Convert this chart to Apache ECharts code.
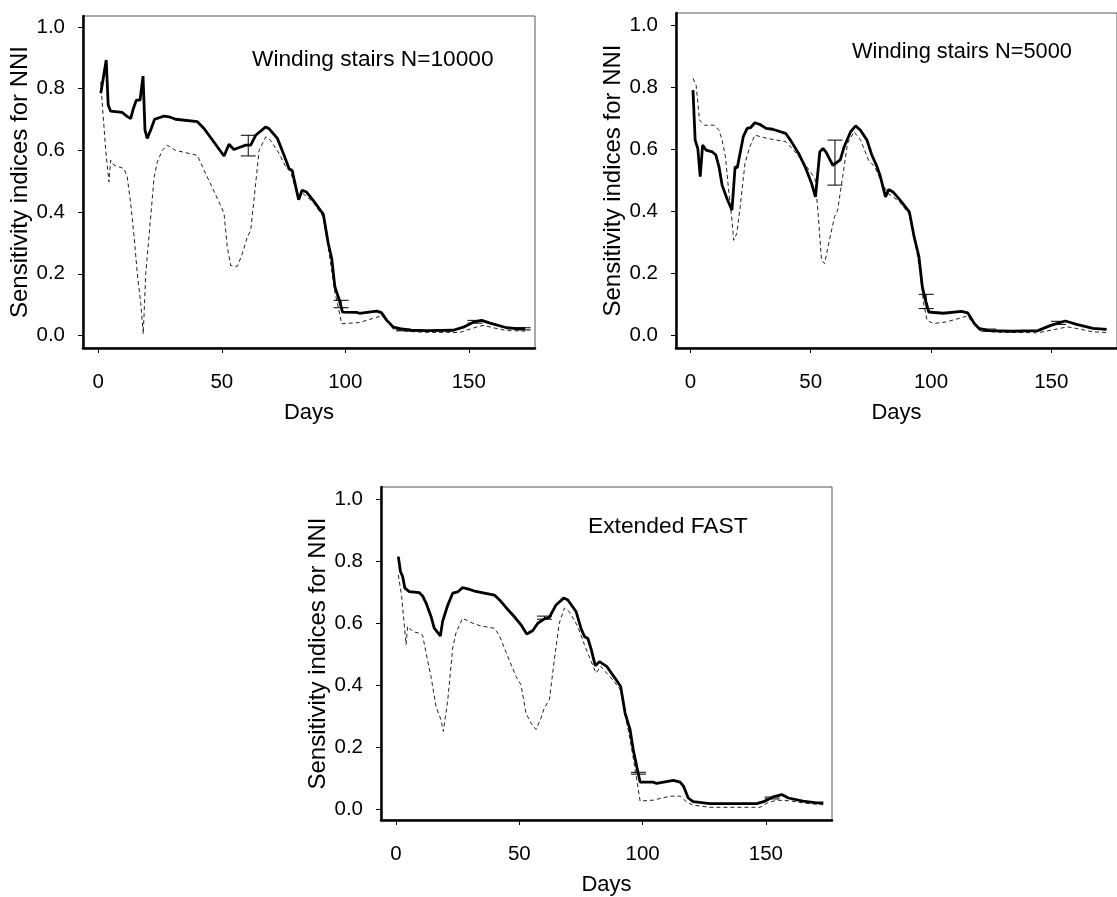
<!DOCTYPE html>
<html>
<head>
<meta charset="utf-8">
<script src="https://cdn.jsdelivr.net/npm/echarts@6/dist/echarts.min.js"></script>
<style>
html,body{margin:0;padding:0;background:#fff;}
#chart{width:1117px;height:897px;}
</style>
</head>
<body>
<div id="chart"></div>
<script>
// ---------- DATA ----------
const xTickValues = [0, 50, 100, 150];
const yTickValues = [0, 0.2, 0.4, 0.6, 0.8, 1.0];
const panelTitles = ["Winding stairs N=10000", "Winding stairs N=5000", "Extended FAST"];
const xAxisTitle = "Days";
const yAxisTitle = "Sensitivity indices for NNI";

// Panel 1: Winding stairs N=10000
const p1SolidDays = [1,3.2,4,5,9.7,11.5,13.1,14.2,15.4,16.9,18.1,18.9,19.8,21.2,22.8,26.6,28.6,31.3,40.1,42.8,50.9,52.9,54.9,57.6,59.7,61.7,63.7,67.8,69.2,72.5,75.2,77.2,78.5,81.1,82.5,84.3,87,91.1,93.1,94.5,95.8,97.6,98.9,104.6,105.7,112.7,114.6,116.8,119.5,122.2,126.2,133,143.7,147.8,151.8,155.2,158.6,165.3,169.4,172.8];
const p1SolidVals = [0.785,0.893,0.747,0.727,0.723,0.711,0.703,0.736,0.763,0.763,0.841,0.666,0.639,0.666,0.701,0.711,0.709,0.701,0.693,0.671,0.582,0.620,0.603,0.611,0.617,0.617,0.649,0.676,0.670,0.639,0.584,0.541,0.535,0.440,0.471,0.465,0.438,0.393,0.298,0.249,0.157,0.114,0.076,0.075,0.072,0.079,0.074,0.049,0.027,0.022,0.017,0.016,0.017,0.027,0.043,0.049,0.040,0.025,0.022,0.022];
const p1DashDays = [1,1.3,3,4.3,5,6.4,10.4,11.7,13.1,14.5,15.8,17.2,18.2,19.2,20.5,22.6,23.9,25.9,27.9,31.3,40.1,42.8,49.5,50.9,52.2,53.6,56.3,58.3,60.3,61.7,63,65.1,67.8,69.7,73.2,75.9,77.9,81,82.6,87,91,93,95.8,98,98.5,105.7,114,116,119.5,125.5,133,146.4,151.8,155.8,159.9,165.3,172.8];
const p1DashVals = [0.822,0.785,0.600,0.498,0.568,0.552,0.541,0.514,0.428,0.319,0.200,0.103,0.005,0.200,0.319,0.514,0.563,0.600,0.617,0.600,0.584,0.536,0.422,0.395,0.287,0.227,0.224,0.265,0.319,0.341,0.438,0.600,0.644,0.633,0.590,0.546,0.530,0.440,0.462,0.432,0.385,0.290,0.140,0.060,0.038,0.042,0.062,0.060,0.020,0.013,0.010,0.010,0.024,0.033,0.025,0.016,0.014];
const p1ErrDays = [60.7, 98.3, 123.5, 152.5, 172];
const p1ErrLow  = [0.582, 0.090, 0.015, 0.040, 0.018];
const p1ErrHigh = [0.649, 0.114, 0.021, 0.049, 0.025];

// Panel 2: Winding stairs N=5000
const p2SolidDays = [1.1,2,3.1,4.1,5.1,6.5,9.2,10.6,11.9,13.2,15.2,17.3,18.6,19.5,22,23.6,25,26.8,28.8,31.5,34.2,39.6,41.6,45,47.7,50.4,52,53.8,55.1,56.4,59.2,62.3,63.9,66.6,68.7,70.7,73.4,75.4,77.5,78.8,81.1,82.4,84.2,86.9,91,93,95,96.4,97.7,99.1,105.1,112.6,115.3,118,120,124,133.5,144.4,149.8,155.8,160.5,167.3,173];
const p2SolidVals = [0.790,0.629,0.602,0.511,0.613,0.597,0.591,0.581,0.543,0.484,0.441,0.403,0.543,0.540,0.640,0.667,0.669,0.685,0.680,0.667,0.664,0.651,0.629,0.586,0.543,0.489,0.446,0.591,0.602,0.590,0.548,0.565,0.607,0.656,0.675,0.661,0.629,0.581,0.545,0.516,0.446,0.470,0.462,0.438,0.398,0.317,0.253,0.156,0.113,0.075,0.071,0.077,0.072,0.038,0.022,0.015,0.013,0.015,0.032,0.046,0.035,0.022,0.019];
const p2DashDays = [1.1,2.4,3.8,5.8,9.9,11.9,13.2,14.6,15.9,17.3,18,19.3,20.7,22.7,24.7,26.8,32.2,39.6,42.3,46.4,51.8,53.1,54.5,55.8,57.2,59.9,61.2,63.3,65.3,68,70.7,74,76.7,78.1,82,87,91,93.5,95.5,97,98.4,101,106.4,114.6,117.3,120,126.8,144.4,149.8,156.6,160.5,167.3,173];
const p2DashVals = [0.828,0.806,0.694,0.677,0.677,0.661,0.629,0.575,0.468,0.371,0.306,0.328,0.414,0.554,0.607,0.645,0.634,0.624,0.602,0.565,0.505,0.393,0.242,0.231,0.285,0.382,0.403,0.511,0.618,0.656,0.630,0.565,0.543,0.516,0.458,0.430,0.390,0.300,0.200,0.100,0.048,0.038,0.043,0.061,0.045,0.016,0.010,0.008,0.016,0.027,0.022,0.011,0.009];
const p2ErrDays = [60.1, 98, 124, 153];
const p2ErrLow  = [0.484, 0.086, 0.013, 0.035];
const p2ErrHigh = [0.629, 0.132, 0.020, 0.045];

// Panel 3: Extended FAST
const p3SolidDays = [0.95,1.8,2.7,3.6,5.4,9.4,10.8,12.2,14.2,15.5,18,18.9,21,23,25,27,29.1,31.8,39.9,41.9,44.6,48,50.7,53,55.4,57.5,60.2,62.2,64.9,68,69.6,73,75,76.4,77.8,79.1,80.8,82.5,85.4,88.8,91.1,92.9,94.9,96.2,97.6,99,104.3,105.7,112.5,115.2,116.6,118.5,120.5,127.3,146.3,149.7,153,156.4,159.1,165,170.6,173.3];
const p3SolidVals = [0.814,0.766,0.750,0.712,0.701,0.698,0.687,0.664,0.621,0.583,0.558,0.605,0.658,0.696,0.700,0.714,0.710,0.703,0.690,0.675,0.650,0.620,0.594,0.564,0.575,0.599,0.613,0.618,0.658,0.680,0.675,0.637,0.583,0.556,0.550,0.516,0.462,0.475,0.460,0.422,0.395,0.309,0.256,0.191,0.137,0.086,0.086,0.082,0.092,0.086,0.073,0.035,0.023,0.017,0.017,0.025,0.039,0.046,0.035,0.025,0.019,0.019];
const p3DashDays = [0.95,2.3,4.1,4.7,6.8,9.4,10.8,12.2,14.2,16.2,18.2,19.2,19.9,21,23,24.3,27,31.1,34.5,39.9,41.9,45.3,48.7,50.7,52.7,54.7,56.8,58.8,60.1,62.2,64.2,66.2,68.3,70.3,73.7,76.4,78.4,81.1,83,88,91,93,95,96.5,99,104.3,111.1,115.2,117.9,120.5,127.3,147.6,150.3,154.3,159.8,166,173.3];
const p3DashVals = [0.755,0.685,0.530,0.589,0.572,0.567,0.560,0.503,0.427,0.331,0.288,0.250,0.255,0.352,0.519,0.567,0.615,0.599,0.590,0.583,0.560,0.492,0.427,0.400,0.309,0.277,0.256,0.293,0.325,0.352,0.481,0.599,0.648,0.636,0.589,0.530,0.490,0.438,0.460,0.415,0.385,0.300,0.220,0.150,0.025,0.028,0.041,0.041,0.022,0.012,0.005,0.005,0.018,0.028,0.026,0.018,0.013];
const p3ErrDays = [60.2, 98.3, 152.5];
const p3ErrLow  = [0.612, 0.112, 0.032];
const p3ErrHigh = [0.622, 0.118, 0.038];

// ---------- BUILD ----------
const FONT = 'Liberation Sans, Arial, sans-serif';
const zip = (a, b) => a.map((v, i) => [v, b[i]]);
const zip3 = (a, b, c) => a.map((v, i) => [v, b[i], c[i]]);

const panels = [
  {solid: zip(p1SolidDays, p1SolidVals), dash: zip(p1DashDays, p1DashVals), err: zip3(p1ErrDays, p1ErrLow, p1ErrHigh),
   grid: {left: 83, top: 16, width: 452, height: 332}, xMin: -6.2, xMax: 176.8, yMin: -0.0406, yMax: 1.0357},
  {solid: zip(p2SolidDays, p2SolidVals), dash: zip(p2DashDays, p2DashVals), err: zip3(p2ErrDays, p2ErrLow, p2ErrHigh),
   grid: {left: 676, top: 13, width: 452, height: 335}, xMin: -5.96, xMax: 177.3, yMin: -0.041, yMax: 1.0387},
  {solid: zip(p3SolidDays, p3SolidVals), dash: zip(p3DashDays, p3DashVals), err: zip3(p3ErrDays, p3ErrLow, p3ErrHigh),
   grid: {left: 381, top: 487, width: 451, height: 333}, xMin: -6.08, xMax: 176.8, yMin: -0.036, yMax: 1.0387}
];

const grids = [], xAxes = [], yAxes = [], series = [];
panels.forEach((p, i) => {
  grids.push(Object.assign({show: true, borderColor: '#555', borderWidth: 1, backgroundColor: 'transparent', containLabel: false}, p.grid));
  xAxes.push({
    type: 'value', gridIndex: i, min: p.xMin, max: p.xMax,
    name: xAxisTitle, nameLocation: 'middle', nameGap: 54,
    nameTextStyle: {fontFamily: FONT, fontSize: 22, color: '#000'},
    axisLine: {show: true, onZero: false, lineStyle: {color: '#000', width: 2.5}},
    axisTick: {show: true, length: 5, customValues: xTickValues, lineStyle: {color: '#000', width: 1}},
    axisLabel: {customValues: xTickValues, margin: 24, fontFamily: FONT, fontSize: 20.5, color: '#000'},
    splitLine: {show: false}
  });
  yAxes.push({
    type: 'value', gridIndex: i, min: p.yMin, max: p.yMax,
    name: yAxisTitle, nameLocation: 'middle', nameGap: 50, nameRotate: 90,
    nameTextStyle: {fontFamily: FONT, fontSize: 24, color: '#000'},
    axisLine: {show: true, onZero: false, lineStyle: {color: '#000', width: 2.5}},
    axisTick: {show: true, length: 5, customValues: yTickValues, lineStyle: {color: '#000', width: 1}},
    axisLabel: {customValues: yTickValues, margin: 18, fontFamily: FONT, fontSize: 20.5, color: '#000',
                formatter: v => v.toFixed(1)},
    splitLine: {show: false}
  });
  series.push({
    type: 'line', xAxisIndex: i, yAxisIndex: i, data: p.dash, showSymbol: false, symbol: 'none',
    lineStyle: {color: '#222', width: 1, type: [4, 3]}, animation: false, z: 2
  });
  series.push({
    type: 'line', xAxisIndex: i, yAxisIndex: i, data: p.solid, showSymbol: false, symbol: 'none',
    lineStyle: {color: '#000', width: 2.8}, animation: false, z: 3
  });
  series.push({
    type: 'custom', xAxisIndex: i, yAxisIndex: i, data: p.err, animation: false, z: 4,
    encode: {x: 0, y: [1, 2]},
    renderItem: (params, api) => {
      const x = api.value(0), lo = api.value(1), hi = api.value(2);
      const a = api.coord([x, lo]), b = api.coord([x, hi]);
      const w = 7.5;
      const st = {stroke: '#000', lineWidth: 1};
      return {type: 'group', children: [
        {type: 'line', shape: {x1: a[0], y1: a[1], x2: b[0], y2: b[1]}, style: st},
        {type: 'line', shape: {x1: a[0] - w, y1: a[1], x2: a[0] + w, y2: a[1]}, style: st},
        {type: 'line', shape: {x1: b[0] - w, y1: b[1], x2: b[0] + w, y2: b[1]}, style: st}
      ]};
    }
  });
});

const titles = [
  {text: panelTitles[0], left: 252, top: 48, size: 22.7},
  {text: panelTitles[1], left: 852, top: 41, size: 21.8},
  {text: panelTitles[2], left: 588, top: 515, size: 22.8}
].map(t => ({text: t.text, left: t.left, top: t.top, padding: 0,
  textStyle: {fontFamily: FONT, fontSize: t.size, fontWeight: 'normal', color: '#000'}}));

const chart = echarts.init(document.getElementById('chart'), null, {renderer: 'canvas'});
chart.setOption({
  backgroundColor: '#fff',
  animation: false,
  title: titles,
  grid: grids,
  xAxis: xAxes,
  yAxis: yAxes,
  series: series
});
</script>
</body>
</html>
